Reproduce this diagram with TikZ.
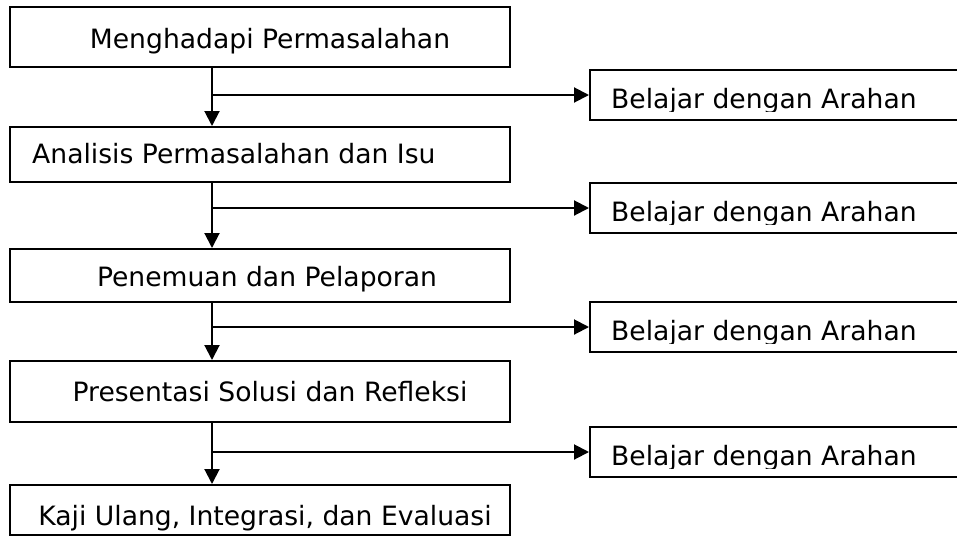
\documentclass[tikz,border=0pt]{standalone}
\usepackage{fontspec}
\setmainfont{DejaVu Sans}
\usetikzlibrary{arrows.meta}
\tikzset{
  box/.style={draw=black, line width=2pt, minimum width=500pt, inner sep=0pt},
  rbox/.style={draw=black, line width=2pt, minimum width=400pt, minimum height=50pt, inner sep=0pt},
  lbl/.style={anchor=base, inner sep=0pt, font=\fontsize{26.6}{32}\selectfont},
  rlbl/.style={anchor=base west, inner sep=0pt, font=\fontsize{26.6}{32}\selectfont},
  arr/.style={line width=2pt, -{Triangle[length=15pt,width=15pt]}}
}
\begin{document}
\begin{tikzpicture}[x=1pt,y=-1pt]
\useasboundingbox (0,0) rectangle (957,536);
\clip (0,0) rectangle (957,536);
\fill[white] (0,0) rectangle (957,536);
% left boxes
\node[box, minimum height=60pt] (b1) at (260,37) {};
\node[box, minimum height=55pt] (b2) at (260,154.5) {};
\node[box, minimum height=53pt] (b3) at (260,275.5) {};
\node[box, minimum height=61pt] (b4) at (260,391.5) {};
\node[box, minimum height=50pt] (b5) at (260,510) {};
% left texts
\node[lbl] (t1) at (270,48) {Menghadapi Permasalahan};
\node[lbl, anchor=base west] (t2) at (32,163) {Analisis Permasalahan dan Isu};
\node[lbl] (t3) at (267,286) {Penemuan dan Pelaporan};
\node[lbl] (t4) at (270,401) {Presentasi Solusi dan Refleksi};
\node[lbl] (t5) at (265,525) {Kaji Ulang, Integrasi, dan Evaluasi};
% right boxes
\node[rbox] (r1) at (790,95) {};
\node[rbox] (r2) at (790,208) {};
\node[rbox] (r3) at (790,327) {};
\node[rbox] (r4) at (790,452) {};
% right texts, clipped at the lower edge as in the reference
\foreach \r/\t in {r1/s1, r2/s2, r3/s3, r4/s4}{
  \begin{scope}
    \clip ([yshift=-16pt]\r.west) rectangle ([yshift=-3pt]\r.north east);
    \node[rlbl] (\t) at ([xshift=22pt,yshift=-13pt]\r.west) {Belajar dengan Arahan};
  \end{scope}
}
% vertical arrows
\draw[arr] ([xshift=-48pt]b1.south) -- ([xshift=-48pt]b2.north);
\draw[arr] ([xshift=-48pt]b2.south) -- ([xshift=-48pt]b3.north);
\draw[arr] ([xshift=-48pt]b3.south) -- ([xshift=-48pt]b4.north);
\draw[arr] ([xshift=-48pt]b4.south) -- ([xshift=-48pt]b5.north);
% branch arrows
\draw[arr] ([xshift=-48pt]b1.south |- r1.west) -- (r1.west);
\draw[arr] ([xshift=-48pt]b2.south |- r2.west) -- (r2.west);
\draw[arr] ([xshift=-48pt]b3.south |- r3.west) -- (r3.west);
\draw[arr] ([xshift=-48pt]b4.south |- r4.west) -- (r4.west);
\end{tikzpicture}
\end{document}
